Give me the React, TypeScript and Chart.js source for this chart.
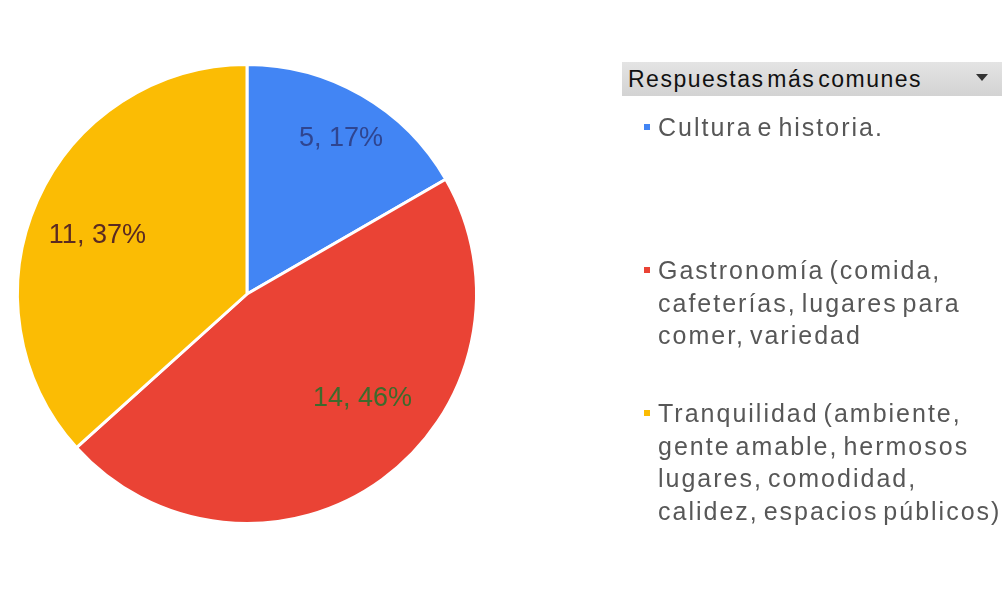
import React, { useEffect, useRef } from "react";
import { Chart, registerables } from "chart.js";

Chart.register(...registerables);

const legendTitle = "Respuestas más comunes";
const legendLines: string[][] = [
  ["Cultura e historia."],
  ["Gastronomía (comida,", "cafeterías, lugares para", "comer, variedad"],
  ["Tranquilidad (ambiente,", "gente amable, hermosos", "lugares, comodidad,", "calidez, espacios públicos)"],
];
const categories = legendLines.map((l) => l.join(" "));
const values = [5, 14, 11];
const percentLabels = ["17%", "46%", "37%"];
const sliceColors = ["#4285F4", "#EA4335", "#FBBC04"];
const labelColors = ["#2f4590", "#3d6a2c", "#5a2a22"];
// position of each label inside its slice: [fraction of the slice angle, fraction of radius]
const labelAnchor = [
  [0.52, 0.79],
  [0.43, 0.68],
  [0.48, 0.7],
];

const labelPlugin = {
  id: "sliceLabels",
  afterDatasetsDraw(chart: any) {
    const { ctx } = chart;
    const meta = chart.getDatasetMeta(0);
    ctx.save();
    ctx.font = "27px 'Liberation Sans', Arial, sans-serif";
    ctx.textAlign = "center";
    ctx.textBaseline = "middle";
    meta.data.forEach((arc: any, i: number) => {
      const { x, y, startAngle, endAngle, outerRadius } = arc.getProps(
        ["x", "y", "startAngle", "endAngle", "outerRadius"],
        true
      );
      const a = startAngle + (endAngle - startAngle) * labelAnchor[i][0];
      const r = outerRadius * labelAnchor[i][1];
      ctx.fillStyle = labelColors[i];
      ctx.fillText(`${values[i]}, ${percentLabels[i]}`, x + r * Math.cos(a), y + r * Math.sin(a));
    });
    ctx.restore();
  },
};

export default function App() {
  const canvasRef = useRef<HTMLCanvasElement | null>(null);

  useEffect(() => {
    if (!canvasRef.current) return;
    const chart = new Chart(canvasRef.current, {
      type: "pie",
      data: {
        labels: categories,
        datasets: [
          {
            data: values,
            backgroundColor: sliceColors,
            borderColor: "#ffffff",
            borderWidth: 3,
          },
        ],
      },
      options: {
        animation: false,
        responsive: true,
        maintainAspectRatio: false,
        layout: { padding: { left: 16, top: 63, right: 524, bottom: 66 } },
        plugins: {
          legend: { display: false },
          tooltip: { enabled: false },
        },
      },
      plugins: [labelPlugin],
    });
    return () => chart.destroy();
  }, []);

  const textStyle: React.CSSProperties = {
    fontFamily: "'Liberation Sans', Arial, sans-serif",
    fontSize: 25,
    letterSpacing: 2,
    wordSpacing: -4,
    color: "#575757",
    lineHeight: "32.5px",
    whiteSpace: "nowrap",
  };

  return (
    <div style={{ position: "absolute", left: 0, top: 0, width: 1002, height: 591, background: "#fff" }}>
      <canvas ref={canvasRef} />
      <div
        style={{
          position: "absolute",
          left: 622,
          top: 62,
          width: 380,
          height: 34,
          background: "linear-gradient(#e4e4e4, #d3d3d3)",
          fontFamily: "'Liberation Sans', Arial, sans-serif",
          fontSize: 23,
          color: "#111",
          lineHeight: "34px",
          paddingLeft: 6,
          boxSizing: "border-box",
          letterSpacing: 1.5,
          wordSpacing: -5,
        }}
      >
        {legendTitle}
        <div
          style={{
            position: "absolute",
            left: 354,
            top: 12,
            width: 0,
            height: 0,
            borderLeft: "6px solid transparent",
            borderRight: "6px solid transparent",
            borderTop: "7px solid #333",
          }}
        />
      </div>
      {legendLines.map((lines, i) => (
        <div key={i} style={{ position: "absolute", left: 658, top: 111 + i * 143 }}>
          <div
            style={{
              position: "absolute",
              left: -14,
              top: 13,
              width: 6,
              height: 6,
              background: sliceColors[i],
            }}
          />
          <div style={textStyle}>
            {lines.map((l, j) => (
              <div key={j}>{l}</div>
            ))}
          </div>
        </div>
      ))}
    </div>
  );
}
